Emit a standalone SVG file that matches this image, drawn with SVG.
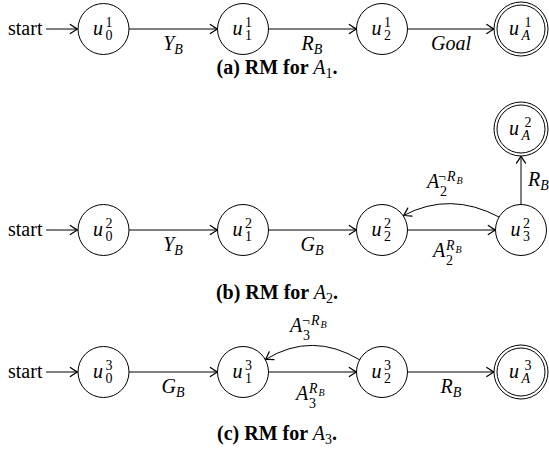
<svg xmlns="http://www.w3.org/2000/svg" width="549" height="450" viewBox="0 0 549 450" font-family="'Liberation Serif', 'DejaVu Serif', serif">
<defs>
<marker id="arr" markerUnits="userSpaceOnUse" markerWidth="12" markerHeight="12" viewBox="-7 -5 8 10" refX="0" refY="0" orient="auto" overflow="visible">
<path d="M -6 -3.8 Q -1.8 -0.9 0 0 Q -1.8 0.9 -6 3.8" fill="none" stroke="#000" stroke-width="1" stroke-linecap="round"/>
</marker>
</defs>
<style>
text{font-family:'Liberation Serif','DejaVu Serif',serif;fill:#000}
.m{font-size:20px}
.i{font-style:italic}
.s{font-size:14px}
.ss{font-size:10px}
.cap{font-size:20px;font-weight:bold}
circle{fill:#fff;stroke:#000;stroke-width:1}
.e{fill:none;stroke:#000;stroke-width:1;marker-end:url(#arr)}
</style>

<g id="connectors">
<line class="e" x1="46" y1="29" x2="77.5" y2="29"/>
<line class="e" x1="129" y1="29" x2="217.5" y2="29"/>
<line class="e" x1="268.5" y1="29" x2="356.5" y2="29"/>
<line class="e" x1="407.5" y1="29" x2="494" y2="29"/>

<line class="e" x1="46" y1="230" x2="77.5" y2="230"/>
<line class="e" x1="129" y1="230" x2="217.5" y2="230"/>
<line class="e" x1="268.5" y1="230" x2="356.5" y2="230"/>
<line class="e" x1="407.5" y1="230" x2="495.5" y2="230"/>
<path class="e" d="M499,217 Q450,191 403.5,215.5"/>
<line class="e" x1="521" y1="204.5" x2="521" y2="156"/>

<line class="e" x1="46" y1="372" x2="77.5" y2="372"/>
<line class="e" x1="129" y1="372" x2="217.5" y2="372"/>
<line class="e" x1="268.5" y1="372" x2="356.5" y2="372"/>
<path class="e" d="M360,360 Q312,331 265.5,359.5"/>
<line class="e" x1="407.5" y1="372" x2="494" y2="372"/>
</g>

<g id="edge-labels">
<text class="m" x="8" y="35">start</text>
<text class="m i" x="173" y="50" text-anchor="middle">Y<tspan class="s" dy="4">B</tspan></text>
<text class="m i" x="312" y="50" text-anchor="middle">R<tspan class="s" dy="4">B</tspan></text>
<text class="m i" x="451" y="50" text-anchor="middle">Goal</text>

<text class="m" x="8" y="236">start</text>
<text class="m i" x="173" y="251" text-anchor="middle">Y<tspan class="s" dy="4">B</tspan></text>
<text class="m i" x="312" y="251" text-anchor="middle">G<tspan class="s" dy="4">B</tspan></text>
<text class="m i" x="433" y="257">A</text>
<text class="s i" x="446" y="250">R</text>
<text class="ss i" x="455.5" y="253">B</text>
<text class="s" x="446" y="265">2</text>
<text class="m i" x="427" y="188">A</text>
<text class="s" x="438" y="181">¬</text>
<text class="s i" x="447" y="181">R</text>
<text class="ss i" x="456.5" y="184">B</text>
<text class="s" x="440" y="196">2</text>
<text class="m i" x="528" y="186">R<tspan class="s" dy="4">B</tspan></text>

<text class="m" x="8" y="378">start</text>
<text class="m i" x="173" y="393" text-anchor="middle">G<tspan class="s" dy="4">B</tspan></text>
<text class="m i" x="296" y="400">A</text>
<text class="s i" x="309" y="393">R</text>
<text class="ss i" x="318.5" y="396">B</text>
<text class="s" x="309" y="408">3</text>
<text class="m i" x="290" y="332">A</text>
<text class="s" x="302" y="325">¬</text>
<text class="s i" x="311" y="325">R</text>
<text class="ss i" x="320.5" y="328">B</text>
<text class="s" x="303" y="340">3</text>
<text class="m i" x="451" y="393" text-anchor="middle">R<tspan class="s" dy="4">B</tspan></text>
</g>

<g id="a-u0"><circle cx="103.5" cy="29" r="25.5"/><text class="m i" x="93" y="35">u</text><text class="s" x="105.5" y="26.5">1</text><text class="s" x="105.5" y="40">0</text></g>
<g id="a-u1"><circle cx="243" cy="29" r="25.5"/><text class="m i" x="232.5" y="35">u</text><text class="s" x="245" y="26.5">1</text><text class="s" x="245" y="40">1</text></g>
<g id="a-u2"><circle cx="382" cy="29" r="25.5"/><text class="m i" x="371.5" y="35">u</text><text class="s" x="384" y="26.5">1</text><text class="s" x="384" y="40">2</text></g>
<g id="a-uA"><circle cx="521" cy="29" r="27"/><circle cx="521" cy="29" r="24"/><text class="m i" x="509" y="35">u</text><text class="s" x="524.5" y="26.5">1</text><text class="s i" x="521.5" y="40">A</text></g>

<g id="b-u0"><circle cx="103.5" cy="230" r="25.5"/><text class="m i" x="93" y="236">u</text><text class="s" x="105.5" y="227.5">2</text><text class="s" x="105.5" y="241">0</text></g>
<g id="b-u1"><circle cx="243" cy="230" r="25.5"/><text class="m i" x="232.5" y="236">u</text><text class="s" x="245" y="227.5">2</text><text class="s" x="245" y="241">1</text></g>
<g id="b-u2"><circle cx="382" cy="230" r="25.5"/><text class="m i" x="371.5" y="236">u</text><text class="s" x="384" y="227.5">2</text><text class="s" x="384" y="241">2</text></g>
<g id="b-u3"><circle cx="521" cy="230" r="25.5"/><text class="m i" x="510.5" y="236">u</text><text class="s" x="523" y="227.5">2</text><text class="s" x="523" y="241">3</text></g>
<g id="b-uA"><circle cx="521" cy="129" r="27"/><circle cx="521" cy="129" r="24"/><text class="m i" x="509" y="135">u</text><text class="s" x="524.5" y="126.5">2</text><text class="s i" x="521.5" y="140">A</text></g>

<g id="c-u0"><circle cx="103.5" cy="372" r="25.5"/><text class="m i" x="93" y="378">u</text><text class="s" x="105.5" y="369.5">3</text><text class="s" x="105.5" y="383">0</text></g>
<g id="c-u1"><circle cx="243" cy="372" r="25.5"/><text class="m i" x="232.5" y="378">u</text><text class="s" x="245" y="369.5">3</text><text class="s" x="245" y="383">1</text></g>
<g id="c-u2"><circle cx="382" cy="372" r="25.5"/><text class="m i" x="371.5" y="378">u</text><text class="s" x="384" y="369.5">3</text><text class="s" x="384" y="383">2</text></g>
<g id="c-uA"><circle cx="521" cy="372" r="27"/><circle cx="521" cy="372" r="24"/><text class="m i" x="509" y="378">u</text><text class="s" x="524.5" y="369.5">3</text><text class="s i" x="521.5" y="383">A</text></g>

<g id="captions">
<text class="cap" x="277" y="74" text-anchor="middle">(a) RM for <tspan font-weight="normal" font-style="italic">A</tspan><tspan font-weight="normal" class="s" dy="4">1</tspan><tspan dy="-4">.</tspan></text>
<text class="cap" x="277" y="299" text-anchor="middle">(b) RM for <tspan font-weight="normal" font-style="italic">A</tspan><tspan font-weight="normal" class="s" dy="4">2</tspan><tspan dy="-4">.</tspan></text>
<text class="cap" x="277" y="440" text-anchor="middle">(c) RM for <tspan font-weight="normal" font-style="italic">A</tspan><tspan font-weight="normal" class="s" dy="4">3</tspan><tspan dy="-4">.</tspan></text>
</g>
</svg>
